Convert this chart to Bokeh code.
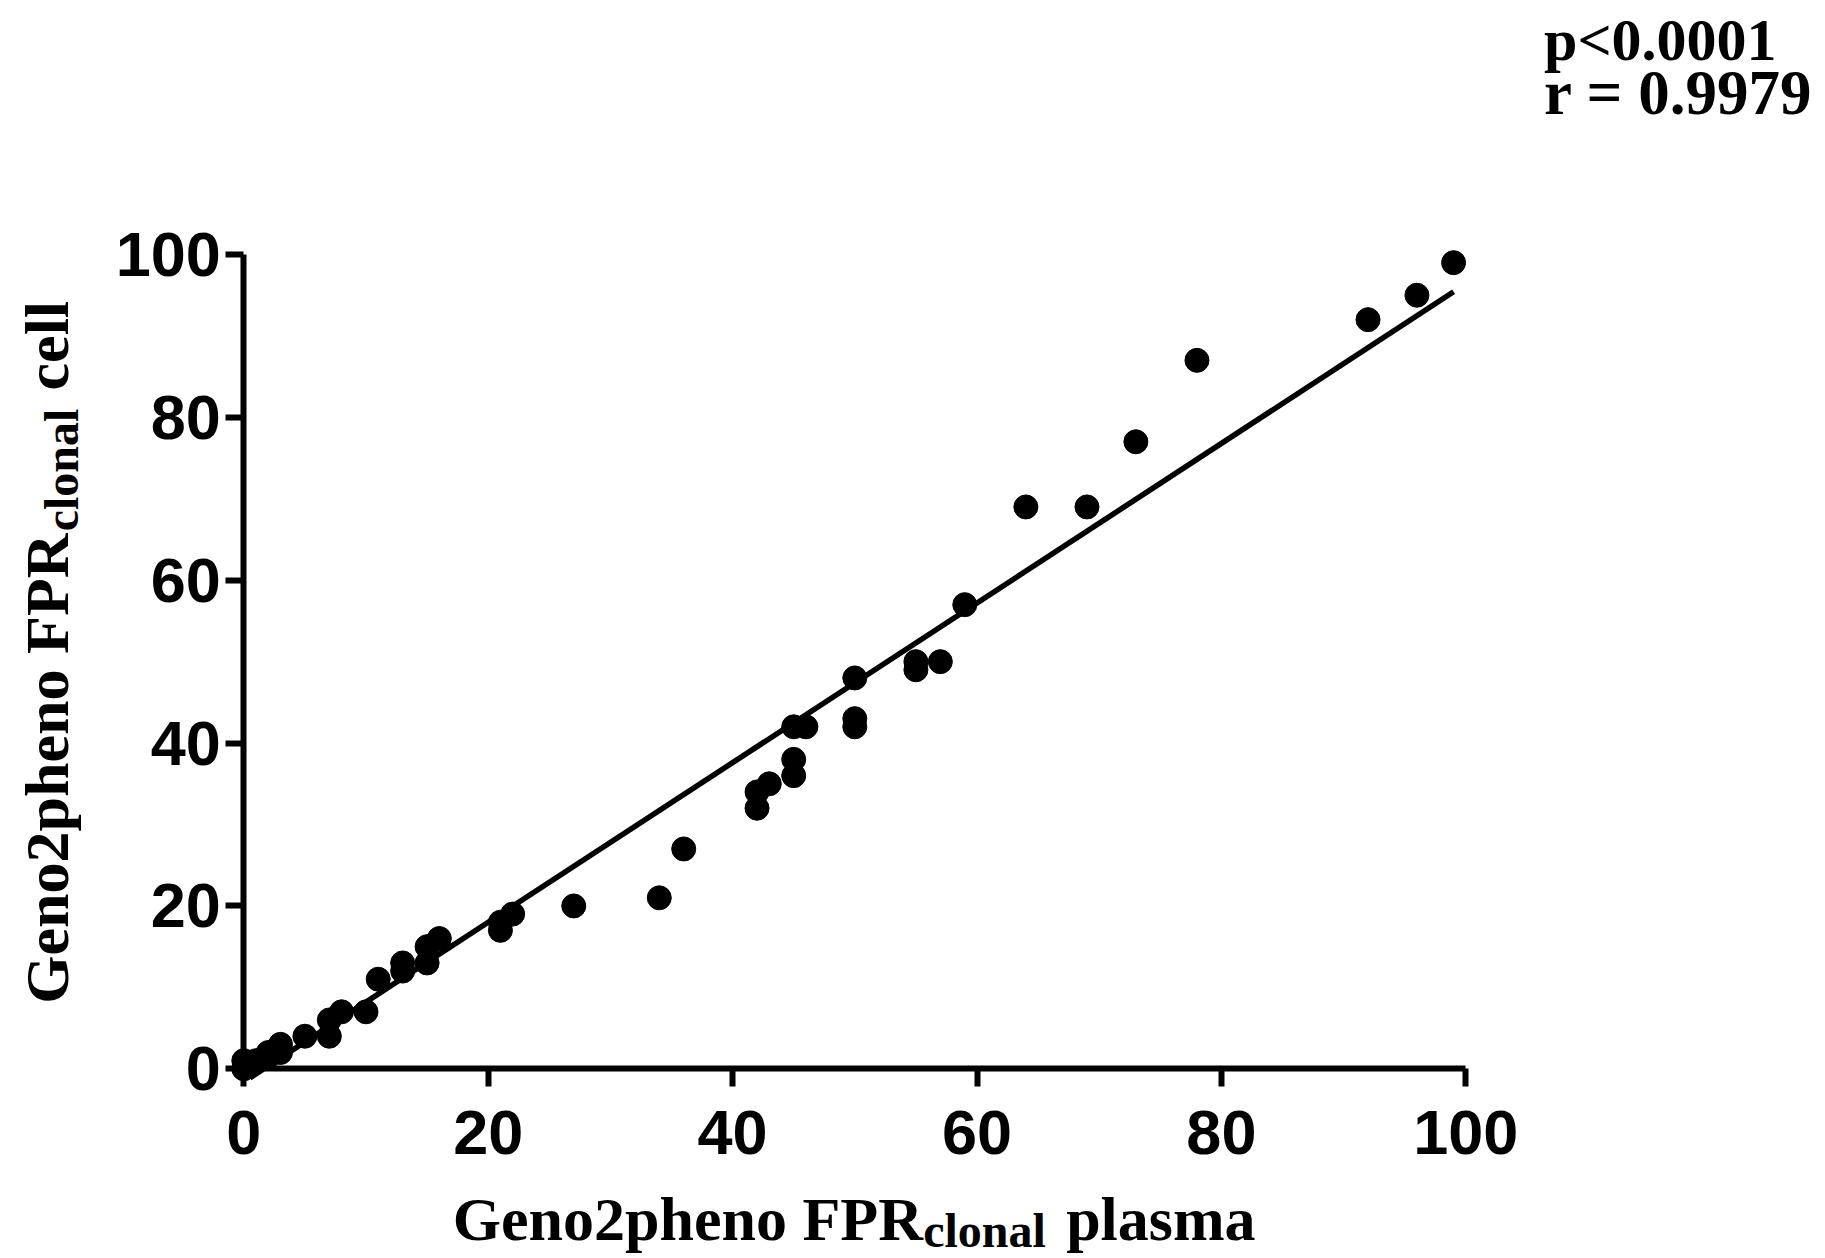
import math
from bokeh.plotting import figure
from bokeh.models import Range1d, Label, FixedTicker
from bokeh.embed import file_html
from bokeh.resources import INLINE

# ---- data ----
plasma = [0, 0, 1, 2, 2, 3, 3, 5, 7, 7, 8, 10, 11, 13, 13, 15, 15, 16,
          21, 21, 22, 27, 34, 36, 42, 42, 43, 45, 45, 45, 46, 50, 50, 50,
          55, 55, 57, 59, 64, 69, 73, 78, 92, 96, 99]
cell = [0, 1, 1, 1.5, 2, 3, 2, 4, 4, 6, 7, 7, 11, 12, 13, 13, 15, 16,
        17, 18, 19, 20, 21, 27, 32, 34, 35, 36, 38, 42, 42, 42, 43, 48,
        49, 50, 50, 57, 69, 69, 77, 87, 92, 95, 99]
fit_slope = 0.98
fit_intercept = -1.6
fit_x = [0.5, 99]
ticks = [0, 20, 40, 60, 80, 100]
p_text = "p<0.0001"
r_text = "r = 0.9979"

fit_y = [fit_intercept + fit_slope * v for v in fit_x]

W, H = 1825, 1258
# pixel placement of the data origin and scale (layout)
x0_px, x_ppu = 243.3, 12.22
y0_px, y_ppu = 1068.3, 8.143
x_range = Range1d(-x0_px / x_ppu, (W - x0_px) / x_ppu)
y_range = Range1d(-(H - y0_px) / y_ppu, y0_px / y_ppu)

p = figure(width=W, height=H, output_backend="svg", toolbar_location=None,
           x_range=x_range, y_range=y_range, min_border=0)
p.outline_line_color = None
p.grid.visible = False
p.background_fill_color = "white"
p.border_fill_color = "white"

p.line(fit_x, fit_y, line_color="black", line_width=5.5)
p.scatter(plasma, cell, size=24, fill_color="black", line_color="black")

for ax in (p.xaxis[0], p.yaxis[0]):
    ax.fixed_location = 0
    ax.bounds = (0, 100)
    ax.ticker = FixedTicker(ticks=ticks)
    ax.minor_tick_line_color = None
    ax.major_tick_in = 0
    ax.major_tick_out = 18
    ax.axis_line_width = 6
    ax.major_tick_line_width = 6
    ax.axis_line_color = "black"
    ax.major_tick_line_color = "black"
    ax.major_label_text_font = "Liberation Sans"
    ax.major_label_text_font_style = "bold"
    ax.major_label_text_font_size = "63px"
    ax.major_label_text_color = "black"
p.xaxis[0].major_label_standoff = 24
p.yaxis[0].major_label_standoff = 5

serif = "Liberation Serif"

def lab(x, y, text, size, **kw):
    p.add_layout(Label(x=x, y=y, text=text, text_font=serif, text_font_style="bold",
                       text_font_size=size, text_color="black", **kw))

# x-axis title
lab(17.1, -18.4, "Geno2pheno FPR", "62px", text_align="left", text_baseline="alphabetic")
lab(55.6, -19.9, "clonal", "48px", text_align="left", text_baseline="alphabetic")
lab(82.8, -18.4, "plasma", "62px", text_align="right", text_baseline="alphabetic")

# y-axis title (rotated)
lab(-16.1, 8.0, "Geno2pheno FPR", "62px", text_align="left", text_baseline="alphabetic", angle=math.pi / 2)
lab(-14.9, 66.0, "clonal", "48px", text_align="left", text_baseline="alphabetic", angle=math.pi / 2)
lab(-16.1, 94.3, "cell", "62px", text_align="right", text_baseline="alphabetic", angle=math.pi / 2)

# statistics
lab(106.4, 126.3, p_text, "60px", text_align="left", text_baseline="alphabetic")
lab(106.4, 119.8, r_text, "63px", text_align="left", text_baseline="alphabetic")

open("out.html", "w").write(file_html(p, INLINE))
